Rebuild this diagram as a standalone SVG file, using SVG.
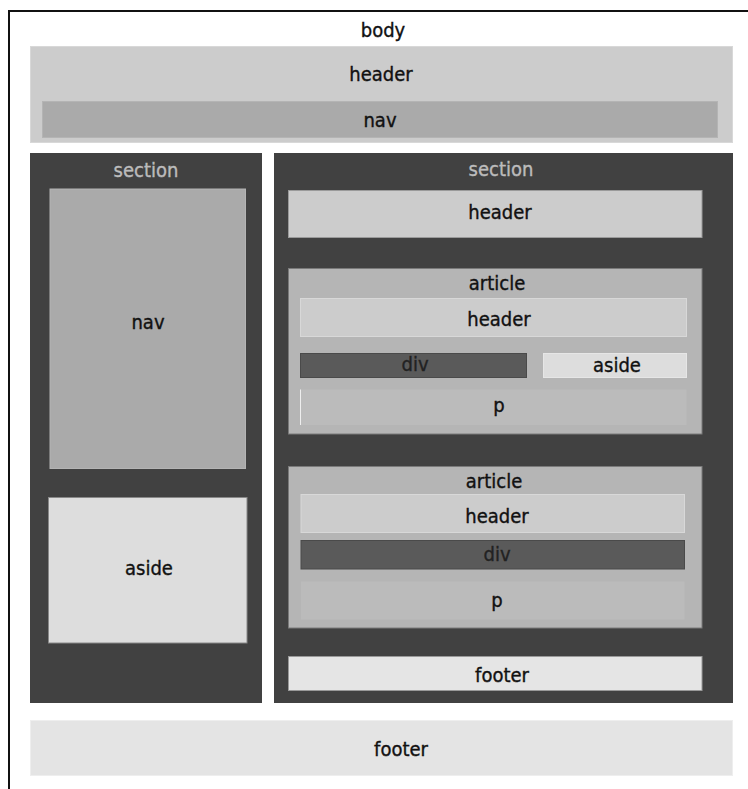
<svg xmlns="http://www.w3.org/2000/svg" width="748" height="789" viewBox="0 0 748 789">
<style>
text{font-family:"DejaVu Sans Condensed","DejaVu Sans","Liberation Sans Narrow",sans-serif;font-stretch:condensed;font-size:20px;text-anchor:middle;fill:#111;stroke:#111;stroke-width:0.35}
.sec{fill:#414141}
text.sect{fill:#bcbcbc;stroke:#bcbcbc}
.hdr{fill:#cccccc;stroke:#d8d8d8;stroke-width:1}
.nav{fill:#aaaaaa;stroke:#b4b4b4;stroke-width:1}
.asd{fill:#dddddd;stroke:#888888;stroke-width:1}
.art{fill:#b5b5b5;stroke:#7a7a7a;stroke-width:1}
.div{fill:#5a5a5a;stroke:#4a4a4a;stroke-width:1}
.p{fill:#bbbbbb}
.ftr{fill:#e4e4e4;stroke:#eeeeee;stroke-width:1}
.sftr{fill:#e5e5e5;stroke:#999999;stroke-width:1}
text.dt{fill:#222;stroke:#222}
</style>
<rect width="748" height="789" fill="#ffffff"/>
<g id="body">
<rect x="9" y="11" width="760" height="800" fill="none" stroke="#111" stroke-width="2"/>
<text x="383" y="37">body</text>
</g>
<g id="header-top">
<rect class="hdr" x="30.5" y="46.5" width="702" height="96"/>
<text x="381" y="81">header</text>
</g>
<g id="nav-top">
<rect class="nav" x="42.5" y="101.5" width="675" height="36"/>
<text x="380" y="127">nav</text>
</g>
<g id="section-left">
<rect class="sec" x="30" y="153" width="232" height="550"/>
<text class="sect" x="146" y="177">section</text>
</g>
<g id="nav-left">
<rect class="nav" x="50" y="189" width="195.5" height="279.5"/>
<text x="148" y="329">nav</text>
</g>
<g id="aside-left">
<rect class="asd" x="48.5" y="497.5" width="198.5" height="145.5"/>
<text x="149" y="575">aside</text>
</g>
<g id="section-right">
<rect class="sec" x="274" y="153" width="459" height="550"/>
<text class="sect" x="501" y="176">section</text>
</g>
<g id="header-section">
<rect class="hdr" x="288.5" y="190.5" width="413.5" height="47" style="stroke:#9a9a9a"/>
<text x="500" y="219">header</text>
</g>
<g id="article-1">
<rect class="art" x="288.5" y="268.5" width="413.5" height="165.5"/>
<text x="497" y="290">article</text>
</g>
<g id="article-1-header">
<rect class="hdr" x="300.5" y="298.5" width="386" height="38"/>
<text x="499" y="326">header</text>
</g>
<g id="article-1-div">
<rect class="div" x="300.5" y="353.5" width="226" height="24"/>
<text class="dt" x="415" y="371">div</text>
</g>
<g id="article-1-aside">
<rect class="asd" x="543.5" y="353.5" width="143" height="24" style="stroke:#e6e6e6"/>
<text x="617" y="372">aside</text>
</g>
<g id="article-1-p">
<rect class="p" x="300" y="389.5" width="386.5" height="35.5"/>
<line x1="300.5" y1="389.5" x2="300.5" y2="425" stroke="#eeeeee" stroke-width="1"/>
<text x="499" y="412">p</text>
</g>
<g id="article-2">
<rect class="art" x="288.5" y="466.5" width="413.5" height="161.5"/>
<text x="494" y="488">article</text>
</g>
<g id="article-2-header">
<rect class="hdr" x="301" y="494.5" width="383.5" height="38"/>
<text x="497" y="523">header</text>
</g>
<g id="article-2-div">
<rect class="div" x="301" y="540.5" width="383.5" height="28.5"/>
<text class="dt" x="497" y="561">div</text>
</g>
<g id="article-2-p">
<rect class="p" x="301" y="581.5" width="383.5" height="38"/>
<text x="497" y="607">p</text>
</g>
<g id="footer-section">
<rect class="sftr" x="288.5" y="656.5" width="413.5" height="34"/>
<text x="502" y="682">footer</text>
</g>
<g id="footer-body">
<rect class="ftr" x="30.5" y="720.5" width="702" height="55"/>
<text x="401" y="756">footer</text>
</g>
<g id="connectors"/>
</svg>
